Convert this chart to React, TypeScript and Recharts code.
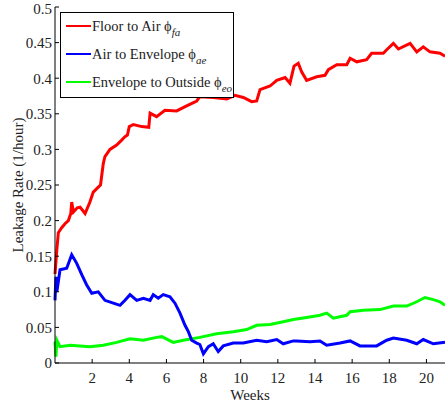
import React from 'react';
import { LineChart, Line, XAxis, YAxis } from 'recharts';

// weeks / leakage rate (1/hour)
const floorWeeks = [0, 0.1, 0.18, 0.36, 0.55, 0.72, 0.85, 0.9, 0.99, 1.2, 1.35, 1.62, 1.88, 2.06, 2.33, 2.45, 2.6, 2.69, 2.96, 3.32, 3.59, 3.77, 3.9, 4.0, 4.22, 4.67, 5.05, 5.12, 5.47, 5.92, 6.55, 7.09, 7.63, 7.8, 8.52, 9.25, 9.69, 10.14, 10.59, 10.86, 11.04, 11.58, 11.94, 12.39, 12.65, 12.87, 13.1, 13.28, 13.55, 14.09, 14.54, 14.72, 15.17, 15.71, 15.89, 16.25, 16.78, 17.05, 17.68, 17.86, 18.22, 18.49, 19.12, 19.48, 19.83, 20.19, 20.73, 21];
const floorRate = [0.125, 0.16, 0.183, 0.19, 0.196, 0.2, 0.21, 0.226, 0.212, 0.218, 0.219, 0.21, 0.226, 0.24, 0.247, 0.25, 0.28, 0.29, 0.3, 0.306, 0.313, 0.318, 0.32, 0.332, 0.335, 0.332, 0.331, 0.351, 0.346, 0.355, 0.354, 0.361, 0.368, 0.374, 0.373, 0.371, 0.376, 0.373, 0.367, 0.368, 0.384, 0.389, 0.397, 0.401, 0.393, 0.417, 0.421, 0.409, 0.397, 0.402, 0.404, 0.412, 0.419, 0.419, 0.428, 0.423, 0.426, 0.435, 0.435, 0.44, 0.449, 0.441, 0.449, 0.437, 0.444, 0.437, 0.435, 0.431];

const airWeeks = [0, 0.05, 0.1, 0.27, 0.63, 0.9, 1.17, 1.44, 1.7, 1.98, 2.33, 2.69, 3.14, 3.5, 3.77, 4.04, 4.4, 4.76, 5.12, 5.29, 5.56, 5.83, 6.19, 6.46, 6.73, 7.0, 7.18, 7.36, 7.63, 7.8, 7.99, 8.26, 8.52, 8.79, 9.06, 9.6, 10.14, 10.86, 11.4, 11.94, 12.29, 12.83, 13.0, 13.73, 14.27, 14.63, 15.35, 15.89, 16.42, 17.32, 17.86, 18.22, 18.94, 19.48, 19.83, 20.37, 21];
const airRate = [0.088, 0.121, 0.1, 0.131, 0.133, 0.152, 0.14, 0.124, 0.11, 0.098, 0.1, 0.088, 0.084, 0.081, 0.088, 0.096, 0.088, 0.091, 0.088, 0.096, 0.091, 0.096, 0.093, 0.084, 0.07, 0.053, 0.044, 0.032, 0.028, 0.026, 0.013, 0.023, 0.027, 0.016, 0.024, 0.028, 0.028, 0.032, 0.03, 0.033, 0.027, 0.031, 0.031, 0.03, 0.031, 0.025, 0.028, 0.031, 0.024, 0.024, 0.032, 0.035, 0.032, 0.027, 0.033, 0.027, 0.029];

const envWeeks = [0, 0.05, 0.1, 0.27, 0.81, 1.35, 1.88, 2.6, 3.32, 4.04, 4.76, 5.47, 5.75, 6.37, 6.91, 7.8, 8.7, 9.6, 10.32, 10.86, 11.58, 12.29, 12.83, 13.55, 14.27, 14.63, 14.99, 15.71, 15.89, 16.6, 17.5, 18.22, 18.94, 19.48, 19.92, 20.37, 20.73, 21];
const envRate = [0.03, 0.009, 0.032, 0.023, 0.025, 0.024, 0.023, 0.025, 0.029, 0.034, 0.032, 0.036, 0.037, 0.029, 0.032, 0.036, 0.041, 0.044, 0.047, 0.053, 0.054, 0.058, 0.061, 0.064, 0.067, 0.07, 0.063, 0.067, 0.072, 0.074, 0.075, 0.08, 0.08, 0.086, 0.092, 0.089, 0.086, 0.081];

const weekTicks = [2, 4, 6, 8, 10, 12, 14, 16, 18, 20];
const rateTicks = [0, 0.05, 0.1, 0.15, 0.2, 0.25, 0.3, 0.35, 0.4, 0.45, 0.5];

const toPoints = (w: number[], v: number[]) => w.map((x, i) => ({ w: x, v: v[i] }));

const legendItems = [
    { label: 'Floor to Air ', sub: 'fa', color: '#ff0000' },
    { label: 'Air to Envelope ', sub: 'ae', color: '#0000ff' },
    { label: 'Envelope to Outside ', sub: 'eo', color: '#00ff00' },
];

const font = '"Liberation Serif", "Times New Roman", serif';

const App: React.FC = () => {
    const tickStyle = { fontFamily: font, fontSize: 15, fill: '#222' };
    return (
        <div style={{ position: 'absolute', left: 0, top: 0, width: 445, height: 403, background: '#fff' }}>
            <LineChart width={445} height={403} margin={{ top: 7, right: 0, bottom: 0, left: 0 }}>
                <XAxis
                    dataKey="w"
                    type="number"
                    domain={[0, 21]}
                    ticks={weekTicks}
                    tickSize={-4}
                    tickMargin={13}
                    height={40}
                    stroke="#000"
                    tick={tickStyle}
                    label={{ value: 'Weeks', position: 'insideBottom', offset: 3, style: { fontFamily: font, fontSize: 15, fill: '#222' } }}
                />
                <XAxis
                    xAxisId="top"
                    orientation="top"
                    dataKey="w"
                    type="number"
                    domain={[0, 21]}
                    ticks={weekTicks}
                    tickSize={-4}
                    tickFormatter={() => ''}
                    height={0}
                    stroke="#000"
                />
                <YAxis
                    type="number"
                    domain={[0, 0.5]}
                    ticks={rateTicks}
                    tickFormatter={(t: number) => String(t)}
                    tickSize={-4}
                    tickMargin={7}
                    width={55}
                    stroke="#000"
                    tick={tickStyle}
                    label={{ value: 'Leakage Rate (1/hour)', angle: -90, position: 'center', dx: -10, style: { fontFamily: font, fontSize: 15, fill: '#222', textAnchor: 'middle' } }}
                />
                <Line data={toPoints(envWeeks, envRate)} dataKey="v" type="linear" stroke="#00ff00" strokeWidth={3} dot={false} isAnimationActive={false} />
                <Line data={toPoints(airWeeks, airRate)} dataKey="v" type="linear" stroke="#0000ff" strokeWidth={3} dot={false} isAnimationActive={false} />
                <Line data={toPoints(floorWeeks, floorRate)} dataKey="v" type="linear" stroke="#ff0000" strokeWidth={3} dot={false} isAnimationActive={false} />
            </LineChart>
            <div
                style={{
                    position: 'absolute', left: 60, top: 12, width: 172, height: 84,
                    border: '1px solid #000', background: '#fff', fontFamily: font, fontSize: 14.5, color: '#222',
                }}
            >
                {legendItems.map((it, i) => (
                    <div key={it.sub} style={{ position: 'absolute', left: 0, top: 3 + i * 28, width: 172, height: 20, lineHeight: '20px', whiteSpace: 'nowrap' }}>
                        <span style={{ position: 'absolute', left: 5, top: 9, width: 25, height: 2, background: it.color }} />
                        <span style={{ position: 'absolute', left: 31, top: 0 }}>
                            {it.label}&#981;<i style={{ fontSize: 11, position: 'relative', top: 5 }}>{it.sub}</i>
                        </span>
                    </div>
                ))}
            </div>
        </div>
    );
};

export default App;
